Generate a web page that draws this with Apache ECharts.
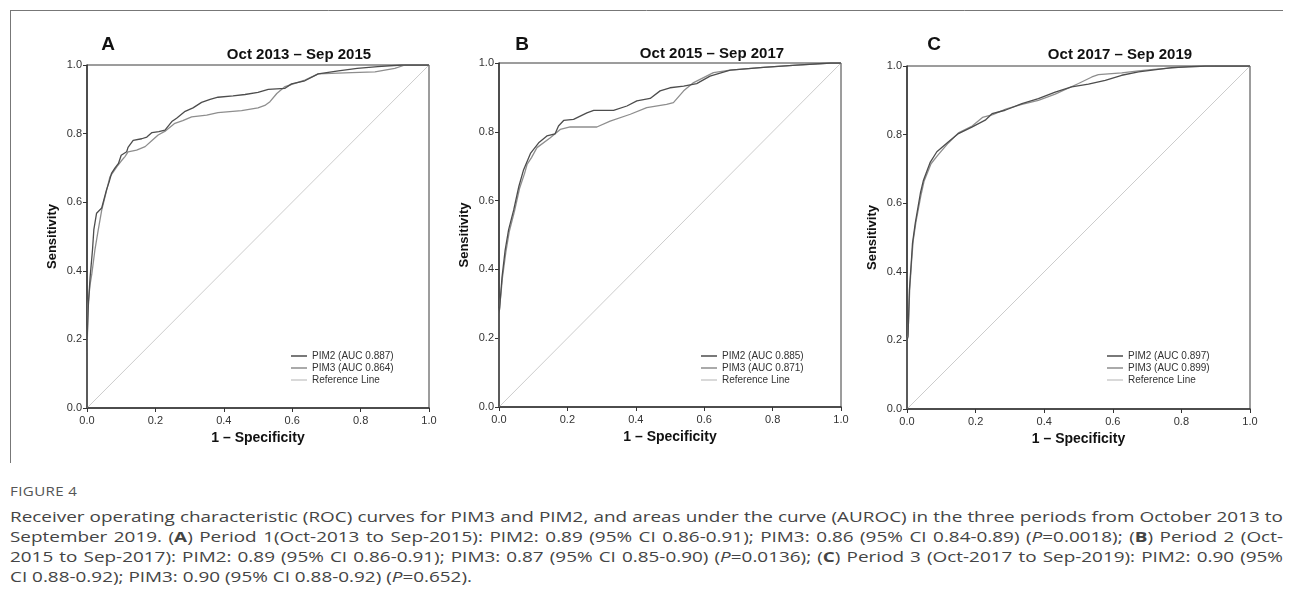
<!DOCTYPE html>
<html>
<head>
<meta charset="utf-8">
<script src="https://cdn.jsdelivr.net/npm/echarts@6/dist/echarts.min.js"></script>
<style>
  body { margin: 0; background: #fff; }
  #chart { position: absolute; left: 0; top: 0; width: 1293px; height: 470px; }
  #caption { position: absolute; left: 10px; top: 483px; width: 1273px; transform-origin: 0 0; font-family: "Open Sans", "Noto Sans", sans-serif; color: #444; }
  #caption .fig { font-size: 12px; letter-spacing: 0.3px; color: #555; line-height: 18px; margin-bottom: 5px; }
  #caption .ln { font-size: 15px; line-height: 20px; white-space: nowrap; text-align: justify; text-align-last: justify; }
  #caption .ln.last { text-align-last: left; }
  #caption span.m { display: inline-block; }
</style>
</head>
<body>
<div id="chart"></div>
<div id="caption">
  <div class="fig">FIGURE 4</div>
  <div class="ln">Receiver operating characteristic (ROC) curves for PIM3 and PIM2, and areas under the curve (AUROC) in the three periods from October 2013 to</div>
  <div class="ln">September 2019. (<b>A</b>) Period 1(Oct-2013 to Sep-2015): PIM2: 0.89 (95% CI 0.86-0.91); PIM3: 0.86 (95% CI 0.84-0.89) (<i>P</i>=0.0018); (<b>B</b>) Period 2 (Oct-</div>
  <div class="ln">2015 to Sep-2017): PIM2: 0.89 (95% CI 0.86-0.91); PIM3: 0.87 (95% CI 0.85-0.90) (<i>P</i>=0.0136); (<b>C</b>) Period 3 (Oct-2017 to Sep-2019): PIM2: 0.90 (95%</div>
  <div class="ln last">CI 0.88-0.92); PIM3: 0.90 (95% CI 0.88-0.92) (<i>P</i>=0.652).</div>
</div>
<script>
// [1 - specificity, sensitivity]
const pim2A = [[0,0],[0,0.19],[0.004,0.3],[0.009,0.38],[0.016,0.46],[0.02,0.52],[0.028,0.568],[0.043,0.583],[0.057,0.636],[0.065,0.66],[0.072,0.685],[0.082,0.7],[0.092,0.713],[0.1,0.737],[0.116,0.747],[0.12,0.76],[0.135,0.78],[0.16,0.785],[0.175,0.79],[0.19,0.803],[0.21,0.806],[0.228,0.81],[0.248,0.835],[0.262,0.845],[0.287,0.865],[0.31,0.875],[0.335,0.891],[0.36,0.9],[0.383,0.906],[0.427,0.91],[0.462,0.914],[0.5,0.92],[0.53,0.929],[0.579,0.932],[0.598,0.945],[0.637,0.954],[0.676,0.974],[0.735,0.983],[0.79,0.99],[0.85,0.995],[0.92,1],[1,1]];
const pim3A = [[0,0],[0,0.15],[0.003,0.3],[0.009,0.36],[0.014,0.39],[0.023,0.46],[0.033,0.52],[0.043,0.577],[0.055,0.625],[0.067,0.674],[0.087,0.703],[0.1,0.72],[0.111,0.733],[0.12,0.747],[0.145,0.752],[0.17,0.762],[0.19,0.78],[0.208,0.796],[0.23,0.808],[0.257,0.83],[0.28,0.838],[0.306,0.849],[0.35,0.854],[0.383,0.861],[0.452,0.867],[0.5,0.875],[0.52,0.882],[0.535,0.893],[0.555,0.917],[0.579,0.937],[0.637,0.956],[0.676,0.974],[0.774,0.978],[0.842,0.98],[0.9,0.99],[0.93,1],[1,1]];
const pim2B = [[0,0],[0,0.27],[0.002,0.29],[0.009,0.379],[0.018,0.456],[0.028,0.515],[0.043,0.573],[0.058,0.641],[0.072,0.69],[0.092,0.737],[0.116,0.768],[0.14,0.788],[0.164,0.794],[0.174,0.817],[0.189,0.833],[0.218,0.836],[0.257,0.855],[0.277,0.862],[0.335,0.862],[0.374,0.875],[0.403,0.89],[0.442,0.897],[0.471,0.919],[0.5,0.928],[0.54,0.933],[0.578,0.94],[0.617,0.962],[0.676,0.979],[0.773,0.987],[0.87,0.994],[0.97,1],[1,1]];
const pim3B = [[0,0],[0,0.27],[0.002,0.29],[0.01,0.375],[0.02,0.45],[0.03,0.51],[0.045,0.568],[0.06,0.635],[0.075,0.68],[0.082,0.705],[0.095,0.725],[0.111,0.754],[0.15,0.783],[0.179,0.807],[0.208,0.814],[0.286,0.814],[0.325,0.831],[0.384,0.851],[0.432,0.87],[0.49,0.88],[0.51,0.885],[0.54,0.919],[0.569,0.943],[0.627,0.972],[0.676,0.979],[0.773,0.987],[0.87,0.994],[0.97,1],[1,1]];
const pim2C = [[0,0],[0,0.2],[0.003,0.211],[0.007,0.347],[0.013,0.435],[0.016,0.483],[0.024,0.541],[0.039,0.629],[0.048,0.667],[0.068,0.72],[0.087,0.75],[0.121,0.779],[0.15,0.803],[0.189,0.822],[0.228,0.842],[0.248,0.861],[0.286,0.871],[0.335,0.89],[0.383,0.905],[0.432,0.924],[0.48,0.939],[0.529,0.947],[0.578,0.958],[0.626,0.973],[0.675,0.983],[0.772,0.995],[0.87,1],[1,1]];
const pim3C = [[0,0],[0,0.2],[0.003,0.22],[0.008,0.35],[0.014,0.44],[0.018,0.49],[0.026,0.545],[0.04,0.62],[0.05,0.665],[0.07,0.715],[0.09,0.74],[0.12,0.775],[0.15,0.805],[0.19,0.825],[0.22,0.85],[0.25,0.858],[0.29,0.875],[0.335,0.888],[0.383,0.9],[0.432,0.918],[0.5,0.949],[0.539,0.968],[0.558,0.975],[0.626,0.98],[0.675,0.986],[0.72,0.99],[0.82,0.998],[0.9,1],[1,1]];
const refLine = [[0,0],[1,1]];

const panelLetters = ['A', 'B', 'C'];
const periodTitles = ['Oct 2013 \u2013 Sep 2015', 'Oct 2015 \u2013 Sep 2017', 'Oct 2017 \u2013 Sep 2019'];
const pim2Names = ['PIM2 (AUC 0.887)', 'PIM2 (AUC 0.885)', 'PIM2 (AUC 0.897)'];
const pim3Names = ['PIM3 (AUC 0.864)', 'PIM3 (AUC 0.871)', 'PIM3 (AUC 0.899)'];

const pim2Data = [pim2A, pim2B, pim2C];
const pim3Data = [pim3A, pim3B, pim3C];

// layout of each panel (pixels)
const grids = [
  { left: 87, top: 65, width: 342, height: 343 },
  { left: 499, top: 63, width: 342, height: 344 },
  { left: 907, top: 66, width: 343, height: 343 }
];
const letterPos = [[108, 45], [522, 45], [934, 45]];
const titlePos = [[299, 55], [712, 54], [1120, 55]];
const legendPos = [[286, 345], [696, 345], [1102, 345]];

const colPim2 = '#4d4d4d';
const colPim3 = '#8e8e8e';
const colRef = '#cccccc';

const chart = echarts.init(document.getElementById('chart'));
const font = '"Liberation Sans", Arial, sans-serif';

const option = {
  animation: false,
  grid: grids.map(g => Object.assign({ show: true, borderColor: '#3a3a3a', borderWidth: 1 }, g)),
  xAxis: grids.map((g, i) => ({
    type: 'value', gridIndex: i, min: 0, max: 1, interval: 0.2,
    name: '1 \u2013 Specificity', nameLocation: 'middle', nameGap: 23,
    nameTextStyle: { fontFamily: font, fontWeight: 'bold', fontSize: 14, color: '#111' },
    axisLine: { show: true, onZero: false, lineStyle: { color: '#333', width: 1.5 } },
    axisTick: { show: true, length: 4, lineStyle: { color: '#333' } },
    axisLabel: { fontFamily: font, fontSize: 11, color: '#333', margin: 7, formatter: v => v.toFixed(1) },
    splitLine: { show: false }
  })),
  yAxis: grids.map((g, i) => ({
    type: 'value', gridIndex: i, min: 0, max: 1, interval: 0.2,
    name: 'Sensitivity', nameLocation: 'middle', nameGap: 28,
    nameTextStyle: { fontFamily: font, fontWeight: 'bold', fontSize: 13, color: '#111' },
    axisLine: { show: true, onZero: false, lineStyle: { color: '#333', width: 1.5 } },
    axisTick: { show: true, length: 4, lineStyle: { color: '#333' } },
    axisLabel: { fontFamily: font, fontSize: 11, color: '#333', margin: 5, formatter: v => v.toFixed(1) },
    splitLine: { show: false }
  })),
  legend: grids.map((g, i) => ({
    left: legendPos[i][0], top: legendPos[i][1], orient: 'vertical',
    icon: 'rect', itemWidth: 16, itemHeight: 1.5, itemGap: 0, selectedMode: false,
    textStyle: { fontFamily: font, fontSize: 10, color: '#333', lineHeight: 12 },
    data: [pim2Names[i], pim3Names[i], 'Reference Line']
  })),
  series: [],
  graphic: [
    { type: 'line', shape: { x1: 10, y1: 10.5, x2: 1283, y2: 10.5 }, style: { stroke: '#777', lineWidth: 1 } },
    { type: 'line', shape: { x1: 10.5, y1: 10, x2: 10.5, y2: 463 }, style: { stroke: '#777', lineWidth: 1 } }
  ]
};

grids.forEach((g, i) => {
  option.series.push(
    { name: 'Reference Line', type: 'line', xAxisIndex: i, yAxisIndex: i, data: refLine,
      symbol: 'none', itemStyle: { color: colRef }, lineStyle: { color: colRef, width: 1 }, z: 1 },
    { name: pim3Names[i], type: 'line', xAxisIndex: i, yAxisIndex: i, data: pim3Data[i],
      symbol: 'none', itemStyle: { color: colPim3 }, lineStyle: { color: colPim3, width: 1.3 }, z: 2 },
    { name: pim2Names[i], type: 'line', xAxisIndex: i, yAxisIndex: i, data: pim2Data[i],
      symbol: 'none', itemStyle: { color: colPim2 }, lineStyle: { color: colPim2, width: 1.3 }, z: 3 }
  );
  option.graphic.push(
    { type: 'text', x: letterPos[i][0], y: letterPos[i][1],
      style: { text: panelLetters[i], font: 'bold 19px ' + font, fill: '#111', align: 'center', verticalAlign: 'middle' } },
    { type: 'text', x: titlePos[i][0], y: titlePos[i][1],
      style: { text: periodTitles[i], font: 'bold 15px ' + font, fill: '#111', align: 'center', verticalAlign: 'middle' } }
  );
});

chart.setOption(option);

// the caption font in the figure is wider than Open Sans: stretch the block so the
// unjustified last line reaches its width, but keep the justified lines inside the box
(function fitCaption() {
  const cap = document.getElementById('caption');
  const lines = cap.querySelectorAll('.ln');
  let widest = 0;
  lines.forEach((ln, k) => {
    if (k === lines.length - 1) return;
    const r = document.createRange();
    r.selectNodeContents(ln);
    ln.style.textAlign = 'left'; ln.style.textAlignLast = 'left';
    widest = Math.max(widest, r.getBoundingClientRect().width);
    ln.style.textAlign = ''; ln.style.textAlignLast = '';
  });
  const s = Math.min(1.32, 1268 / widest);
  cap.style.width = (1273 / s) + 'px';
  cap.style.transform = 'scaleX(' + s + ')';
})();

window.addEventListener('resize', function() {
  chart.resize();
});
</script>
</body>
</html>
